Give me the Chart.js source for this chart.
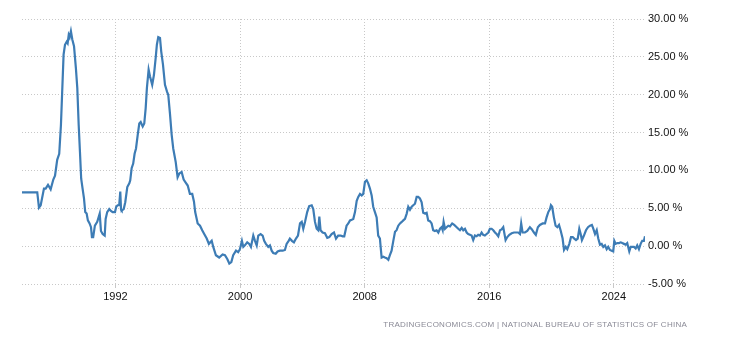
<!DOCTYPE html>
<html>
<head>
<meta charset="utf-8">
<script src="https://cdn.jsdelivr.net/npm/chart.js@4/dist/chart.umd.min.js"></script>
<style>
  html, body { margin: 0; padding: 0; background: #fff; }
  #wrap { position: relative; width: 730px; height: 340px; }
  #source {
    position: absolute; right: 43px; top: 320px;
    font: 8px "Liberation Sans", Arial, sans-serif;
    letter-spacing: 0.25px;
    color: #8a8a96; white-space: nowrap;
  }
</style>
</head>
<body>
<div id="wrap">
  <canvas id="chart" width="730" height="340"></canvas>
  <div id="source">TRADINGECONOMICS.COM | NATIONAL BUREAU OF STATISTICS OF CHINA</div>
</div>
<script>
// datas (ano decimal) e inflação anual (%)
const dates = [
  1986.0, 1986.98, 1987.09, 1987.20, 1987.41, 1987.52, 1987.67, 1987.84, 1988.01, 1988.12,
  1988.26, 1988.39, 1988.50, 1988.58, 1988.67, 1988.76, 1988.87, 1988.93, 1989.00, 1989.06,
  1989.14, 1989.23, 1989.34, 1989.46, 1989.55, 1989.64, 1989.72, 1989.80, 1989.89, 1989.98,
  1990.06, 1990.15, 1990.23, 1990.34, 1990.43, 1990.49, 1990.57, 1990.68, 1990.83, 1990.99,
  1991.07, 1991.18, 1991.31, 1991.37, 1991.47, 1991.60, 1991.69, 1991.82, 1991.97, 1992.05,
  1992.14, 1992.24, 1992.31, 1992.36, 1992.40, 1992.53, 1992.63, 1992.76, 1992.89, 1992.95,
  1993.04, 1993.14, 1993.23, 1993.32, 1993.43, 1993.53, 1993.62, 1993.75, 1993.85, 1993.94,
  1994.02, 1994.13, 1994.22, 1994.36, 1994.47, 1994.58, 1994.66, 1994.75, 1994.86, 1994.94,
  1995.05, 1995.18, 1995.31, 1995.39, 1995.50, 1995.61, 1995.71, 1995.87, 1995.99, 1996.10,
  1996.25, 1996.38, 1996.51, 1996.64, 1996.78, 1996.93, 1997.04, 1997.12, 1997.28, 1997.43,
  1997.57, 1997.70, 1997.86, 1998.00, 1998.18, 1998.28, 1998.45, 1998.66, 1998.88, 1999.03,
  1999.18, 1999.31, 1999.44, 1999.56, 1999.74, 1999.88, 1999.99, 2000.12, 2000.21, 2000.31,
  2000.46, 2000.59, 2000.70, 2000.85, 2000.96, 2001.07, 2001.17, 2001.32, 2001.45, 2001.55,
  2001.66, 2001.81, 2001.92, 2002.03, 2002.13, 2002.29, 2002.41, 2002.56, 2002.74, 2002.88,
  2002.99, 2003.12, 2003.20, 2003.33, 2003.46, 2003.59, 2003.72, 2003.85, 2003.96, 2004.06,
  2004.17, 2004.31, 2004.44, 2004.60, 2004.70, 2004.81, 2004.92, 2005.02, 2005.09, 2005.17,
  2005.30, 2005.45, 2005.60, 2005.73, 2005.88, 2006.03, 2006.16, 2006.30, 2006.46, 2006.59,
  2006.69, 2006.84, 2006.95, 2007.06, 2007.17, 2007.27, 2007.38, 2007.49, 2007.59, 2007.70,
  2007.81, 2007.91, 2008.02, 2008.13, 2008.23, 2008.34, 2008.45, 2008.55, 2008.66, 2008.77,
  2008.87, 2008.98, 2009.09, 2009.20, 2009.30, 2009.41, 2009.52, 2009.62, 2009.73, 2009.84,
  2009.95, 2010.05, 2010.16, 2010.27, 2010.38, 2010.48, 2010.59, 2010.70, 2010.80, 2010.91,
  2011.02, 2011.12, 2011.23, 2011.34, 2011.44, 2011.55, 2011.66, 2011.76, 2011.87, 2011.98,
  2012.08, 2012.19, 2012.30, 2012.40, 2012.51, 2012.62, 2012.73, 2012.84, 2012.94, 2013.01,
  2013.07, 2013.16, 2013.26, 2013.37, 2013.48, 2013.62, 2013.75, 2013.91, 2014.01, 2014.12,
  2014.23, 2014.33, 2014.44, 2014.55, 2014.65, 2014.76, 2014.87, 2014.97, 2015.08, 2015.19,
  2015.29, 2015.40, 2015.51, 2015.61, 2015.72, 2015.83, 2015.94, 2016.04, 2016.15, 2016.26,
  2016.37, 2016.47, 2016.58, 2016.69, 2016.79, 2016.90, 2017.05, 2017.16, 2017.29, 2017.44,
  2017.59, 2017.71, 2017.86, 2017.97, 2018.05, 2018.14, 2018.29, 2018.44, 2018.61, 2018.74,
  2018.87, 2018.99, 2019.12, 2019.25, 2019.43, 2019.58, 2019.68, 2019.79, 2019.90, 2019.96,
  2020.04, 2020.15, 2020.26, 2020.37, 2020.48, 2020.58, 2020.71, 2020.80, 2020.91, 2021.01,
  2021.14, 2021.25, 2021.36, 2021.46, 2021.57, 2021.68, 2021.78, 2021.87, 2021.95, 2022.08,
  2022.21, 2022.34, 2022.47, 2022.59, 2022.68, 2022.79, 2022.90, 2023.00, 2023.11, 2023.22,
  2023.32, 2023.43, 2023.54, 2023.64, 2023.75, 2023.86, 2023.96, 2024.03, 2024.12, 2024.22,
  2024.33, 2024.44, 2024.54, 2024.65, 2024.76, 2024.86, 2024.99, 2025.08, 2025.18, 2025.29,
  2025.40, 2025.50, 2025.61, 2025.72, 2025.82, 2025.93, 2026.0
];

const inflation = [
  7.1, 7.1, 5.1, 5.4, 7.6, 7.6, 8.1, 7.5, 8.8, 9.3,
  11.4, 12.2, 16.0, 20.4, 25.3, 26.6, 27.0, 26.8, 27.9, 27.6,
  28.4, 27.3, 26.4, 23.5, 20.9, 16.0, 12.5, 8.9, 7.6, 6.3,
  4.5, 4.3, 3.4, 3.0, 2.5, 1.2, 1.2, 2.7, 3.2, 4.3,
  2.0, 1.6, 1.4, 3.6, 4.5, 4.9, 4.7, 4.5, 4.5, 5.2,
  5.4, 5.4, 7.2, 4.8, 4.7, 4.9, 5.8, 7.8, 8.3, 8.7,
  10.3, 10.9, 12.2, 12.9, 14.7, 16.2, 16.4, 15.8, 16.2, 18.2,
  20.9, 23.3, 22.4, 21.3, 22.6, 24.8, 26.6, 27.6, 27.5, 25.7,
  24.0, 21.3, 20.4, 20.0, 17.5, 14.7, 12.9, 11.1, 9.1, 9.6,
  9.8, 8.8, 8.4, 8.0, 6.9, 6.9, 5.9, 4.5, 3.0, 2.7,
  2.1, 1.6, 1.0, 0.3, 0.7, -0.1, -1.2, -1.5, -1.1, -1.2,
  -1.7, -2.3, -2.1, -1.2, -0.6, -0.8, -0.4, 0.7, -0.1, 0.1,
  0.5, 0.3, -0.1, 1.4, 0.7, 0.1, 1.4, 1.6, 1.4, 0.7,
  0.3, -0.1, 0.1, -0.6, -0.9, -1.0, -0.7, -0.6, -0.6, -0.5,
  0.3, 0.7, 1.0, 0.7, 0.5, 1.0, 1.4, 3.0, 3.2, 2.3,
  3.2, 4.5, 5.3, 5.4, 4.9, 3.2, 2.3, 2.1, 3.9, 2.1,
  1.8, 1.7, 1.1, 1.2, 1.6, 1.8, 1.0, 1.4, 1.4, 1.3,
  1.3, 2.7, 3.0, 3.4, 3.5, 3.6, 4.5, 6.0, 6.5, 6.9,
  6.7, 6.9, 8.5, 8.7, 8.3, 7.6, 6.7, 5.2, 4.5, 3.8,
  1.4, 1.0, -1.5, -1.4, -1.5, -1.6, -1.8, -1.2, -0.6, 0.7,
  1.9, 2.1, 2.7, 3.0, 3.2, 3.4, 3.6, 4.3, 5.2, 4.8,
  5.2, 5.4, 5.6, 6.5, 6.5, 6.3, 5.8, 4.4, 4.3, 4.4,
  3.4, 3.3, 3.0, 2.1, 2.0, 2.1, 1.8, 2.3, 2.5, 2.1,
  3.2, 2.3, 2.5, 2.7, 2.6, 3.0, 2.8, 2.5, 2.3, 2.1,
  2.4, 2.1, 2.3, 1.8, 1.6, 1.5, 1.4, 0.8, 1.4, 1.3,
  1.5, 1.4, 1.8, 1.5, 1.4, 1.6, 1.8, 2.3, 2.3, 2.1,
  1.8, 1.6, 1.3, 2.1, 2.2, 2.5, 0.8, 1.2, 1.5, 1.7,
  1.8, 1.8, 1.8, 1.6, 3.0, 1.8, 1.8, 2.0, 2.5, 2.2,
  1.8, 1.5, 2.5, 2.8, 3.0, 3.0, 3.8, 4.5, 4.9, 5.4,
  5.2, 3.8, 2.7, 2.5, 2.8, 2.1, 1.0, -0.5, -0.1, -0.4,
  0.3, 1.2, 1.2, 1.0, 0.8, 1.0, 2.3, 1.6, 0.8, 1.4,
  2.1, 2.5, 2.7, 2.8, 2.3, 1.6, 2.1, 1.0, 0.2, 0.3,
  -0.1, 0.1, -0.4, -0.1, -0.5, -0.6, -0.7, 0.7, 0.3, 0.4,
  0.4, 0.5, 0.4, 0.3, 0.2, 0.4, -0.7, -0.1, -0.1, -0.1,
  -0.3, 0.1, -0.4, 0.3, 0.7, 0.7, 1.3
];

const yearTicks = [1992, 2000, 2008, 2016, 2024];
const yMin = -5, yMax = 30, yStep = 5;

const gridColor = '#c8c8c8';
const tickFont = { family: '"Liberation Sans", Arial, sans-serif', size: 11 };

const ctx = document.getElementById('chart').getContext('2d');
new Chart(ctx, {
  type: 'line',
  data: {
    datasets: [{
      label: 'Inflation Rate',
      data: dates.map((d, i) => ({ x: d, y: inflation[i] })),
      borderColor: '#3d7cb5',
      borderWidth: 2.2,
      pointRadius: 0,
      tension: 0,
      fill: false
    }]
  },
  options: {
    responsive: false,
    animation: false,
    devicePixelRatio: 1,
    layout: { padding: { left: 22, top: 19, right: 0, bottom: 0 } },
    plugins: { legend: { display: false }, tooltip: { enabled: false } },
    scales: {
      x: {
        type: 'linear',
        min: 1986,
        max: 2026,
        afterBuildTicks: function(scale) {
          scale.ticks = yearTicks.map(v => ({ value: v }));
        },
        afterFit: function(scale) { scale.height = 56; },
        grid: { color: gridColor, tickLength: 4, drawTicks: true },
        border: { display: false, dash: [1, 2] },
        ticks: {
          font: tickFont, color: '#111', padding: 2, maxRotation: 0,
          callback: v => String(v)
        }
      },
      y: {
        position: 'right',
        min: yMin,
        max: yMax,
        afterFit: function(scale) { scale.width = 85; },
        grid: { color: gridColor, drawTicks: false },
        border: { display: false, dash: [1, 2] },
        ticks: {
          stepSize: yStep, font: tickFont, color: '#111', padding: 3,
          callback: v => v.toFixed(2) + ' %'
        }
      }
    }
  }
});
</script>
</body>
</html>
